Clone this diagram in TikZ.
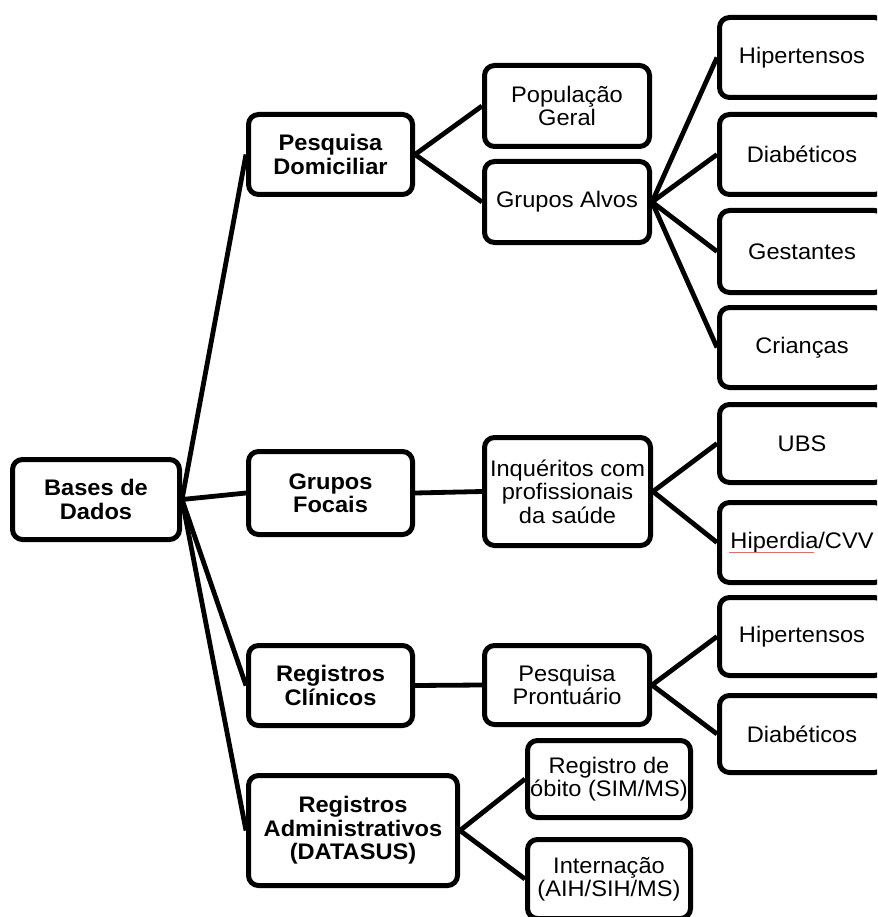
\documentclass[tikz,border=0pt]{standalone}
\usepackage{fontspec}
\setmainfont[FakeStretch=1.05]{Liberation Sans}
\definecolor{spellred}{RGB}{225,110,110}
\begin{document}
\begin{tikzpicture}[x=1pt,y=-1pt,
  box/.style={draw=black, fill=white, rectangle, rounded corners=10pt, line width=5pt,
    inner sep=0pt, align=center, font=\fontsize{22.5}{23.5}\selectfont},
  bbox/.style={box, font=\fontsize{22.5}{23.5}\selectfont\bfseries},
  link/.style={draw=black, line width=4.8pt}]
\clip (0,0) rectangle (877,917);
\fill[white] (0,0) rectangle (877,917);
% level 0
\node[bbox, minimum width=167, minimum height=80] (bases) at (96,499.5) {Bases de\\Dados};
% level 1
\node[bbox, minimum width=164, minimum height=80] (pd) at (330.5,154.5) {Pesquisa\\Domiciliar};
\node[bbox, minimum width=164, minimum height=83] (gf) at (330.5,493) {Grupos\\Focais};
\node[bbox, minimum width=164, minimum height=80] (rc) at (330.5,685.5) {Registros\\Clínicos};
\node[bbox, minimum width=209, minimum height=110] (ra) at (353,830.5) {Registros\\Administrativos\\(DATASUS)};
% level 2
\node[box, minimum width=165, minimum height=81] (pop) at (567,106) {População\\Geral};
\node[box, minimum width=165, minimum height=81] (ga) at (567,202) {Grupos Alvos};
\node[box, minimum width=166, minimum height=108] (inq) at (567.5,491.5) {Inquéritos com\\profissionais\\da saúde};
\node[box, minimum width=165, minimum height=79] (pp) at (567,685) {Pesquisa\\Prontuário};
\node[box, minimum width=163, minimum height=77] (ob) at (609,779) {Registro de\\óbito (SIM/MS)};
\node[box, minimum width=163, minimum height=79] (int) at (609,879) {Internação\\(AIH/SIH/MS)};
% level 3
\node[box, minimum width=165, minimum height=80] (hip1) at (802,57.5) {Hipertensos};
\node[box, minimum width=165, minimum height=80] (dia1) at (802,154.5) {Diabéticos};
\node[box, minimum width=165, minimum height=82] (ges) at (802,251.5) {Gestantes};
\node[box, minimum width=165, minimum height=80] (cri) at (802,347.5) {Crianças};
\node[box, minimum width=165, minimum height=78] (ubs) at (802,443.5) {UBS};
\node[box, minimum width=165, minimum height=80] (hpd) at (802,542.5) {Hiperdia/CVV};
\node[box, minimum width=165, minimum height=78] (hip2) at (802,636.5) {Hipertensos};
\node[box, minimum width=165, minimum height=77] (dia2) at (802,734) {Diabéticos};
% connectors
\draw[link] (bases.east) -- (pd.west);
\draw[link] (bases.east) -- (gf.west);
\draw[link] (bases.east) -- (rc.west);
\draw[link] (bases.east) -- (ra.west);
\draw[link] (pd.east) -- (pop.west);
\draw[link] (pd.east) -- (ga.west);
\draw[link] (ga.east) -- (hip1.west);
\draw[link] (ga.east) -- (dia1.west);
\draw[link] (ga.east) -- (ges.west);
\draw[link] (ga.east) -- (cri.west);
\draw[link] (gf.east) -- (inq.west);
\draw[link] (inq.east) -- (ubs.west);
\draw[link] (inq.east) -- (hpd.west);
\draw[link] (rc.east) -- (pp.west);
\draw[link] (pp.east) -- (hip2.west);
\draw[link] (pp.east) -- (dia2.west);
\draw[link] (ra.east) -- (ob.west);
\draw[link] (ra.east) -- (int.west);
% spell-check mark under Hiperdia
\coordinate (sq1) at ([xshift=-73pt,yshift=-9.5pt]hpd.center);
\coordinate (sq2) at ([xshift=12pt,yshift=-9.5pt]hpd.center);
\draw[spellred, line width=0.7pt] (sq1) -- (sq2);
\end{tikzpicture}
\end{document}
